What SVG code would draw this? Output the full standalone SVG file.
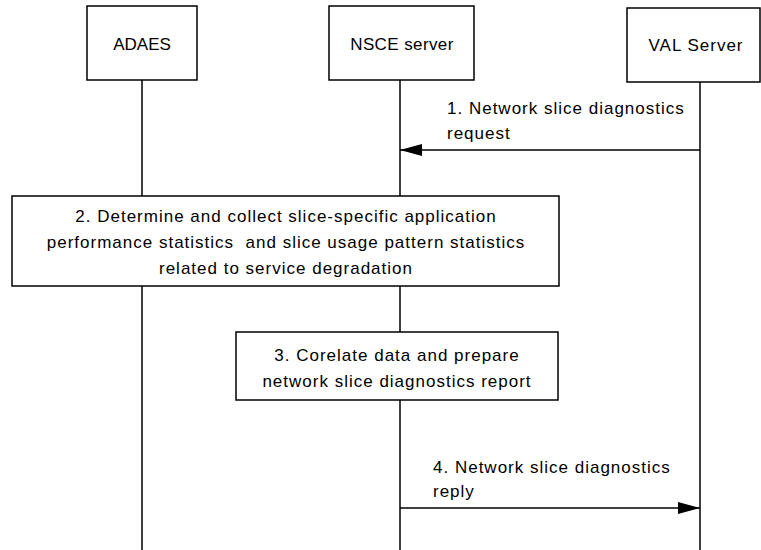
<svg xmlns="http://www.w3.org/2000/svg" width="761" height="550" viewBox="0 0 761 550">
<defs>
<style>
.box{fill:#fff;stroke:#000;stroke-width:1.5}
.life{stroke:#000;stroke-width:1.5;fill:none}
.msg{stroke:#000;stroke-width:1.5;fill:none}
text{font-family:"Liberation Sans",Arial,sans-serif;font-size:17px;fill:#000}
.c{text-anchor:middle}
.w{letter-spacing:1px}
</style>
<marker id="ah" markerWidth="22" markerHeight="12" refX="22" refY="6" orient="auto" markerUnits="userSpaceOnUse">
<path d="M0,0 L22,6 L0,12 Z" fill="#000"/>
</marker>
</defs>
<g id="lifelines">
<line class="life" x1="142" y1="80" x2="142" y2="550"/>
<line class="life" x1="400" y1="80" x2="400" y2="550"/>
<line class="life" x1="700" y1="82" x2="700" y2="550"/>
</g>
<g id="adaes">
<rect class="box" x="87" y="6" width="110" height="74"/>
<text class="c" x="142" y="50">ADAES</text>
</g>
<g id="nsce">
<rect class="box" x="329" y="6" width="145" height="74"/>
<text class="c" x="402" y="50" style="letter-spacing:0.4px">NSCE server</text>
</g>
<g id="val">
<rect class="box" x="627" y="8" width="133" height="74"/>
<text class="c w" x="696" y="51">VAL Server</text>
</g>
<g id="connectors">
<line class="msg" x1="700" y1="150" x2="400" y2="150" marker-end="url(#ah)"/>
<line class="msg" x1="400" y1="508" x2="700" y2="508" marker-end="url(#ah)"/>
<text class="w" x="447" y="114">1. Network slice diagnostics</text>
<text class="w" x="447" y="139">request</text>
<text class="w" x="433" y="473">4. Network slice diagnostics</text>
<text class="w" x="433" y="497">reply</text>
</g>
<g id="step2">
<rect class="box" x="12" y="196" width="547" height="90"/>
<text class="c w" x="286" y="222">2. Determine and collect slice-specific application</text>
<text class="c w" x="286" y="248" xml:space="preserve" style="white-space:pre">performance statistics  and slice usage pattern statistics</text>
<text class="c w" x="286" y="274">related to service degradation</text>
</g>
<g id="step3">
<rect class="box" x="236" y="332" width="322" height="68"/>
<text class="c w" x="397" y="361">3. Corelate data and prepare</text>
<text class="c w" x="397" y="387">network slice diagnostics report</text>
</g>
</svg>
